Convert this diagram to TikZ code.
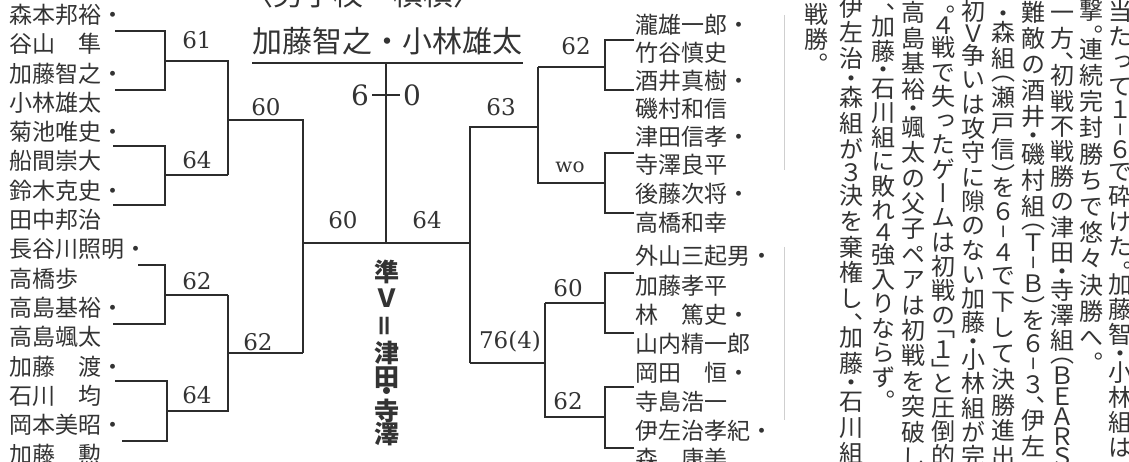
\documentclass[tikz,border=0pt]{standalone}
\usepackage{fontspec}
\setmainfont{DejaVu Serif}
\newfontfamily\jpfont{Noto Sans CJK JP}
\newfontfamily\jpvfont[RawFeature=+vert]{Noto Sans CJK JP}
\definecolor{ink}{HTML}{333333}
\definecolor{lineink}{HTML}{2C2C2C}
\definecolor{sepgray}{HTML}{CFCFCF}

\newcommand\TClass[1]{%
  \gdef\tadv{1}\gdef\toff{0.5}\gdef\trot{0}%
  \ifnum`#1>"FF0F\relax\ifnum`#1<"FF3B\relax\gdef\tadv{0.8}\gdef\toff{0.4}\fi\fi
  \ifnum`#1="2212\relax\gdef\tadv{0.8}\gdef\toff{0.4}\gdef\trot{90}\fi
  \ifnum`#1="3002\relax\gdef\tadv{0.5}\fi
  \ifnum`#1="3001\relax\gdef\tadv{0.5}\fi
  \ifnum`#1="FF09\relax\gdef\tadv{0.5}\fi
  \ifnum`#1="300D\relax\gdef\tadv{0.5}\fi
  \ifnum`#1="FF08\relax\gdef\tadv{0.5}\gdef\toff{0}\fi
  \ifnum`#1="300C\relax\gdef\tadv{0.5}\gdef\toff{0}\fi
  \ifnum`#1="30FB\relax\gdef\tadv{0.5}\gdef\toff{0.25}\fi
}
\newcommand\TateCol[5]{%
  \gdef\tcur{#3}%
  \foreach \ch [count=\k] in {#5}{%
    \expandafter\TClass\expandafter{\ch}%
    \pgfmathsetmacro\tcen{\tcur+\toff*#4}%
    \node[tatechar, rotate=\trot] (#1-\k) at (#2,\tcen) {\ch};
    \pgfmathsetmacro\tnext{\tcur+\tadv*#4}%
    \global\let\tcur\tnext
  }%
}

\tikzset{
  bthin/.style={draw=lineink, line width=1.1pt},
  bthick/.style={draw=lineink, line width=2.8pt, line join=miter},
  namel/.style={anchor=west, inner sep=0pt, text=ink, font=\jpfont\fontsize{23}{23}\selectfont, text height=20pt, text depth=3pt},
  tatechar/.style={inner sep=0pt, text=ink, font=\jpvfont\fontsize{24}{24}\selectfont, text height=21pt, text depth=3pt},
  score/.style={inner sep=0pt, text=ink, font=\fontsize{23}{23}\selectfont},
}

\begin{document}
\begin{tikzpicture}[x=1pt,y=-1pt]
\useasboundingbox (0,0) rectangle (1129,462);
\clip (0,0) rectangle (1129,462);
\fill[white] (0,0) rectangle (1129,462);

% header (cut off at top)
\node[anchor=west, inner sep=0pt, text=ink, font=\jpfont\fontsize{30}{30}\selectfont] (head) at (243,-6) {〈男子校　横横〉};

% title
\node[inner sep=0pt, text=ink, font=\jpfont\fontsize{30}{30}\selectfont, text height=26pt, text depth=4pt] (title) at (387.5,42) {加藤智之・小林雄太};
\draw[draw=lineink, line width=2pt] (title.west |- 0,63) -- (title.east |- 0,63);

% left names
\foreach \nm [count=\i] in {森本邦裕・,谷山　隼,加藤智之・,小林雄太,菊池唯史・,船間崇大,鈴木克史・,田中邦治,長谷川照明・,高橋歩,高島基裕・,高島颯太,加藤　渡・,石川　均,岡本美昭・,加藤　勲}
  \node[namel] (L\i) at (9,{15+29.3*(\i-1)}) {\nm};

% right names
\foreach \nm/\yy [count=\i] in {瀧雄一郎・/25,竹谷慎史/53,酒井真樹・/81,磯村和信/109,津田信孝・/137,寺澤良平/165,後藤次将・/194,高橋和幸/223,外山三起男・/256,加藤孝平/286,林　篤史・/315,山内精一郎/344,岡田　恒・/373,寺島浩一/402,伊左治孝紀・/431,森　康美/459}
  \node[namel] (R\i) at (635,\yy) {\nm};

% bracket coordinates
\coordinate (La1) at (115,31);  \coordinate (La2) at (115,90);  \coordinate (Lja) at (165,61);
\coordinate (Lb1) at (113,146); \coordinate (Lb2) at (113,205); \coordinate (Ljb) at (165,175);
\coordinate (Lc1) at (138,265); \coordinate (Lc2) at (113,324); \coordinate (Ljc) at (165,295);
\coordinate (Ld1) at (115,381); \coordinate (Ld2) at (122,441); \coordinate (Ljd) at (167,411);
\coordinate (Lqa) at (228,120); \coordinate (Lqb) at (228,353);
\coordinate (Ls) at (303,243);
\coordinate (F) at (386,243); \coordinate (Ftop) at (386,63);
\coordinate (Rs) at (470,243);
\coordinate (Rqa) at (538,127); \coordinate (Rqb) at (545,363);
\coordinate (Rja) at (605,67); \coordinate (Rjb) at (605,183);
\coordinate (Rjc) at (605,303); \coordinate (Rjd) at (605,417);
\coordinate (Ra1) at (634,40);  \coordinate (Ra2) at (634,90);
\coordinate (Rb1) at (634,153); \coordinate (Rb2) at (634,213);
\coordinate (Rc1) at (634,273); \coordinate (Rc2) at (634,333);
\coordinate (Rd1) at (634,387); \coordinate (Rd2) at (634,448);
\coordinate (Tk1) at (372,95); \coordinate (Tk2) at (400,95);

% left half
\draw[bthin] (La1) -| (Lja);
\draw[bthin] (Lb1) -| (Ljb);
\draw[bthin] (Ljb -| Lqa) -- (Lqa);
\draw[bthin] (Lc1) -| (Ljc);
\draw[bthin] (Ljc -| Lqb) -- (Lqb);
\draw[bthin] (Ld2) -| (Ljd);
\draw[bthin] (Lqb -| Ls) -- (Ls);
\draw[bthick] (Lb2) -| (Ljb) -- (Ljb -| Lqa);
\draw[bthick] (Lc2) -| (Ljc) -- (Ljc -| Lqb);
\draw[bthick] (Ld1) -| (Ljd) -- (Ljd -| Lqb) -- (Lqb) -- (Lqb -| Ls);
\draw[bthick] (La2) -| (Lja) -| (Lqa) -| (Ls) -- (F) -- (Ftop);

% right half
\draw[bthin] (Ra1) -| (Rja);
\draw[bthin] (Rja -| Rqa) -- (Rqa);
\draw[bthin] (Rb2) -| (Rjb);
\draw[bthin] (Rs) -- (F);
\draw[bthin] (Rc2) -| (Rjc);
\draw[bthin] (Rjc -| Rqb) -- (Rqb);
\draw[bthin] (Rd1) -| (Rjd);
\draw[bthin] (Rqb -| Rs) -- (Rs);
\draw[bthick] (Ra2) -| (Rja) -- (Rja -| Rqa);
\draw[bthick] (Rc1) -| (Rjc) -- (Rjc -| Rqb);
\draw[bthick] (Rd2) -| (Rjd) -- (Rjd -| Rqb) -- (Rqb) -- (Rqb -| Rs);
\draw[bthick] (Rb1) -| (Rjb) -- (Rjb -| Rqa) -- (Rqa) -- (Rqa -| Rs) -- (Rs);

% final score
\draw[bthin] (Tk1) -- (Tk2);
\node[score, font=\fontsize{28}{28}\selectfont] (fs6) at (360,95) {6};
\node[score, font=\fontsize{28}{28}\selectfont] (fs0) at (412,95) {0};

% scores
\node[score] (s1) at (197,40) {61};
\node[score] (s2) at (197,160) {64};
\node[score] (s3) at (266,107) {60};
\node[score] (s4) at (197,281) {62};
\node[score] (s5) at (197,395) {64};
\node[score] (s6) at (258,342) {62};
\node[score] (s7) at (343,220) {60};
\node[score] (s8) at (427,220) {64};
\node[score] (s9) at (576,46) {62};
\node[score] (s10) at (501,107) {63};
\node[score, font=\fontsize{20}{20}\selectfont] (s11) at (570,167) {wo};
\node[score] (s12) at (568,288) {60};
\node[score] (s13) at (568,401) {62};
\node[score] (s14) at (510,342) {76(4)};

% runner-up (vertical)
\begin{scope}[every node/.style={inner sep=0pt, text=ink, font=\jpfont\bfseries\fontsize{25}{25}\selectfont}]
\node (v1) at (387,272) {準};
\node (v2) at (387,298) {Ｖ};
\node[rotate=90] (v3) at (387,326) {＝};
\node (v4) at (387,353) {津};
\node (v5) at (387,378) {田};
\node (v6) at (387,394) {・};
\node (v7) at (387,411) {寺};
\node (v8) at (387,434) {澤};
\end{scope}

% separator
\draw[sepgray, line width=1pt] (784,15) -- (784,170);
\draw[sepgray, line width=1pt] (784,247) -- (784,420);

% article columns (vertical text, right to left)
\TateCol{ca}{1120}{-0.5}{25.0}{当,た,っ,て,１,−,６,で,砕,け,た,。,加,藤,智,・,小,林,組,は}
\TateCol{cb}{1091}{-3}{26.2}{撃,。,連,続,完,封,勝,ち,で,悠,々,決,勝,へ,。}
\TateCol{cc}{1062}{0.4}{25.2}{一,方,、,初,戦,不,戦,勝,の,津,田,・,寺,澤,組,（,Ｂ,Ｅ,Ａ,Ｒ,Ｓ}
\TateCol{cd}{1033}{0.1}{25.8}{難,敵,の,酒,井,・,磯,村,組,（,Ｔ,−,Ｂ,）,を,６,−,３,、,伊,左}
\TateCol{ce}{1003}{7}{25.85}{・,森,組,（,瀬,戸,信,）,を,６,−,４,で,下,し,て,決,勝,進,出,。}
\TateCol{cf}{973}{-0.2}{24.3}{初,Ｖ,争,い,は,攻,守,に,隙,の,な,い,加,藤,・,小,林,組,が,完}
\TateCol{cg}{943}{4}{24.3}{。,４,戦,で,失,っ,た,ゲ,ー,ム,は,初,戦,の,「,１,」,と,圧,倒,的}
\TateCol{ch}{913}{0.3}{25.4}{高,島,基,裕,・,颯,太,の,父,子,ペ,ア,は,初,戦,を,突,破,し,た}
\TateCol{ci}{883}{2.5}{24.5}{、,加,藤,・,石,川,組,に,敗,れ,４,強,入,り,な,ら,ず,。}
\TateCol{cj}{851}{-5.7}{25.8}{伊,左,治,・,森,組,が,３,決,を,棄,権,し,、,加,藤,・,石,川,組}
\TateCol{ck}{816}{2.5}{25}{戦,勝,。}
\end{tikzpicture}
\end{document}
